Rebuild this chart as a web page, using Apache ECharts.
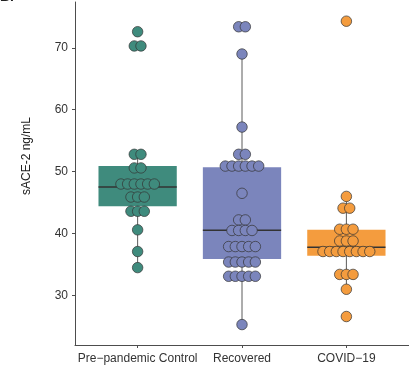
<!DOCTYPE html>
<html><head><meta charset="utf-8">
<script src="https://cdn.jsdelivr.net/npm/echarts@6/dist/echarts.min.js"></script>
<style>html,body{margin:0;padding:0;background:#fff}#c{width:409px;height:374px}</style>
</head><body><div id="c"></div>
<script>
// ---- data ----
const categories = ['Pre\u2212pandemic Control', 'Recovered', 'COVID\u221219'];
const yTicks = [30, 40, 50, 60, 70];
const yAxisTitle = 'sACE-2 ng/mL';
const controlValues = [72.6, 70.3, 70.3, 52.8, 52.8, 50.6, 50.6,
  48.0, 48.0, 48.0, 48.0, 48.0, 48.0, 45.9, 45.9, 45.9, 43.6, 43.6, 43.6, 40.6, 37.1, 34.5];
const recoveredValues = [73.4, 73.4, 69.0, 57.2, 52.8, 52.8,
  50.9, 50.9, 50.9, 50.9, 50.9, 50.9, 46.5, 42.2, 42.2, 40.5, 40.5, 40.5, 40.5,
  37.9, 37.9, 37.9, 37.9, 37.9, 35.4, 35.4, 35.4, 35.4, 35.4,
  33.1, 33.1, 33.1, 33.1, 33.1, 25.3];
const covidValues = [74.3, 46.0, 44.1, 44.1, 40.7, 40.7, 40.7, 38.8, 38.8, 38.8,
  37.1, 37.1, 37.1, 37.1, 37.1, 37.1, 37.1, 37.1, 33.4, 33.4, 33.4, 31.0, 26.6];
// box stats: [lower whisker, Q1, median, Q3, upper whisker]
const controlBox = [34.5, 44.4, 47.5, 50.9, 52.8];
const recoveredBox = [25.3, 35.9, 40.55, 50.7, 69.0];
const covidBox = [31.0, 36.4, 37.8, 40.6, 46.0];

// ---- styling ----
const colors = ['#3f8b7d', '#7b85bc', '#f49c3e'];
const groups = [controlValues, recoveredValues, covidValues];
const boxes = [controlBox, recoveredBox, covidBox];
const dotStep = 0.064;   // horizontal spacing of stacked dots (x units)
const boxHalf = 0.375;

function stackDots(values, center) {
  const counts = {}, seen = {};
  values.forEach(v => { counts[v] = (counts[v] || 0) + 1; });
  return values.map(v => {
    const k = seen[v] = (seen[v] === undefined ? 0 : seen[v] + 1);
    return [center + (k - (counts[v] - 1) / 2) * dotStep, v];
  });
}

const chart = echarts.init(document.getElementById('c'), null, {renderer: 'canvas'});
const font = 'Liberation Sans, Arial, Helvetica, sans-serif';

const series = [{
  type: 'custom',
  z: 1,
  data: boxes.map((b, i) => [i + 1].concat(b)),
  encode: {x: 0, y: [1, 2, 3, 4, 5]},
  renderItem: function (params, api) {
    const c = api.value(0);
    const lo = api.coord([c, api.value(1)]);
    const q1 = api.coord([c, api.value(2)]);
    const md = api.coord([c, api.value(3)]);
    const q3 = api.coord([c, api.value(4)]);
    const hi = api.coord([c, api.value(5)]);
    const left = api.coord([c - boxHalf, 0])[0];
    const right = api.coord([c + boxHalf, 0])[0];
    return {
      type: 'group',
      children: [
        {type: 'line', shape: {x1: lo[0], y1: lo[1], x2: hi[0], y2: hi[1]},
         style: {stroke: '#5a5a5a', lineWidth: 1}},
        {type: 'rect', shape: {x: left, y: q3[1], width: right - left, height: q1[1] - q3[1]},
         style: {fill: colors[params.dataIndex], stroke: null}},
        {type: 'line', shape: {x1: left, y1: md[1], x2: right, y2: md[1]},
         style: {stroke: '#333', lineWidth: 1.5}}
      ]
    };
  }
}];
groups.forEach((vals, i) => {
  series.push({
    type: 'scatter',
    z: 3,
    symbolSize: 10.5,
    data: stackDots(vals, i + 1),
    itemStyle: {color: colors[i], borderColor: '#333', borderWidth: 0.7, opacity: 1}
  });
});

chart.setOption({
  animation: false,
  backgroundColor: '#fff',
  grid: {left: 75, right: -14, top: 2, bottom: 29},
  xAxis: {
    type: 'value', min: 0.4, max: 3.6,
    axisLine: {show: true, lineStyle: {color: '#4d4d4d', width: 1}},
    axisTick: {show: true, length: 3, lineStyle: {color: '#4d4d4d'}, customValues: [1, 2, 3]},
    axisLabel: {customValues: [1, 2, 3], margin: 8, color: '#333', fontSize: 12, fontFamily: font,
      formatter: v => categories[Math.round(v) - 1] || ''},
    splitLine: {show: false}
  },
  yAxis: {
    type: 'value', min: 22, max: 77.4,
    axisLine: {show: true, lineStyle: {color: '#4d4d4d', width: 1}},
    axisTick: {show: true, length: 3, lineStyle: {color: '#4d4d4d'}, customValues: yTicks},
    axisLabel: {customValues: yTicks, margin: 7, color: '#333', fontSize: 12, fontFamily: font},
    splitLine: {show: false}
  },
  graphic: [
    {type: 'text', left: 27 - 6, top: 156, rotation: Math.PI / 2,
     style: {text: yAxisTitle, fill: '#222', font: '12px ' + font, textAlign: 'center', textVerticalAlign: 'middle'},
     x: 27, y: 156, left: undefined, top: undefined},
    {type: 'text', x: 0, y: -10, style: {text: 'B.', fill: '#222', font: 'bold 14px ' + font}}
  ],
  series: series
});
</script></body></html>
